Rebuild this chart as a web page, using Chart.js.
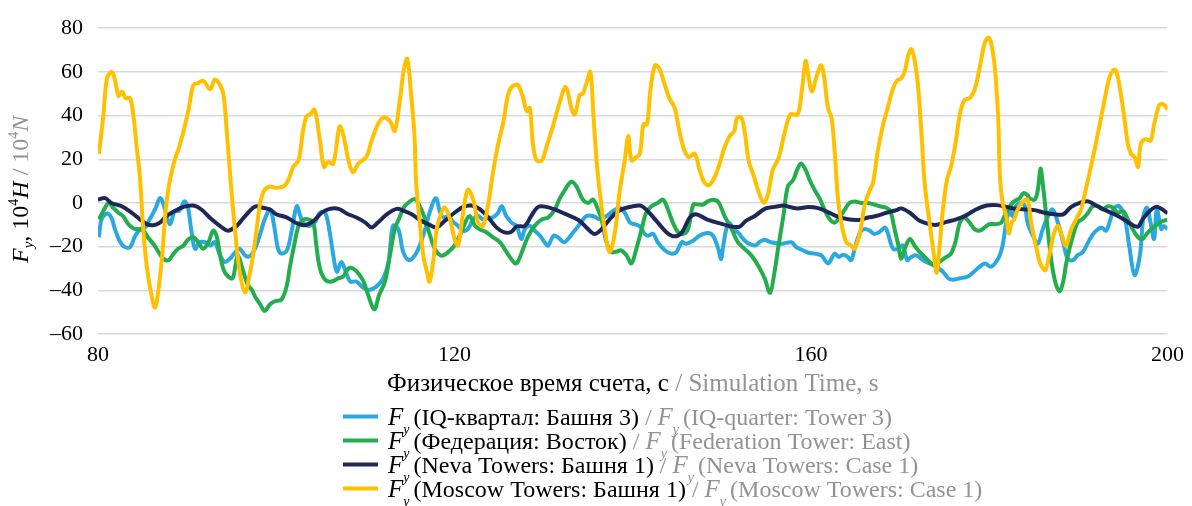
<!DOCTYPE html>
<html>
<head>
<meta charset="utf-8">
<script src="https://cdn.jsdelivr.net/npm/chart.js@4"></script>
<style>
  html, body { margin: 0; padding: 0; background: #fff; }
</style>
</head>
<body>
<canvas id="myChart" width="1192" height="506"></canvas>
<script>
// Series data (time in s, force in 10^4 N)
const iqTimes = [80.1,80.4,81.0,81.5,81.9,82.5,83.0,83.6,84.1,84.7,85.3,85.8,86.4,86.95,87.3,87.7,88.1,88.6,89.1,89.7,90.1,90.5,90.9,91.4,92.0,92.6,93.1,93.7,94.2,94.8,95.4,95.9,96.5,97.0,97.6,98.2,98.7,99.3,99.7,100.2,100.6,101.2,101.7,102.3,102.7,103.0,103.6,104.3,104.9,105.5,106.0,106.4,106.8,107.3,107.8,108.3,109.0,109.8,110.5,111.25,112.0,112.6,113.1,113.7,114.25,114.9,115.55,116.1,116.7,117.2,117.9,118.4,118.8,119.3,119.85,120.4,120.97,121.5,122.1,122.65,123.2,123.8,124.3,124.9,125.3,125.8,126.4,126.95,127.5,127.9,128.45,129.0,129.6,130.1,130.5,131.1,131.6,132.3,133.3,134.05,134.8,135.55,136.3,137.05,137.8,138.5,139.1,139.7,140.2,140.8,141.35,141.7,142.3,142.8,143.6,144.3,144.9,145.5,146.0,146.8,147.5,148.4,149.0,149.6,149.9,150.1,150.5,150.9,151.25,151.8,152.4,152.9,153.7,154.2,154.8,155.5,156.7,157.8,158.35,158.9,159.7,160.4,161.15,161.9,162.3,162.65,163.1,163.6,164.1,164.5,164.9,165.5,166.0,166.6,167.1,167.7,168.3,168.6,169.2,169.75,170.3,170.8,171.25,171.8,172.6,173.3,174.05,174.8,175.4,175.9,176.7,177.6,178.5,179.5,180.2,181.0,181.5,181.9,182.3,182.65,183.0,183.6,184.0,184.3,184.9,185.45,186.0,186.6,187.1,187.7,188.3,188.8,189.4,189.9,190.5,191.1,191.8,192.6,193.1,193.6,194.05,194.6,195.2,195.7,196.3,196.9,197.3,197.7,198.1,198.5,198.8,199.3,199.6,200.0];
const iqValues = [-15.7,-7.5,-4.8,-6.7,-12,-18,-20.2,-20.2,-15.7,-12,-11.2,-7.5,-3,2.2,0,-6,-9.7,-3.7,-3.7,0.7,-2.2,-13.5,-21,-18,-18,-19.5,-18,-24,-27,-25.5,-22.5,-21,-24,-24.5,-21,-14.2,-7.5,-3,-9,-21,-23.2,-21.7,-13.5,-1.5,-6,-9,-10.5,-9,-4.5,-4.5,-13.5,-24,-31.5,-27,-31.5,-36,-36,-39,-39.7,-38.2,-34.5,-27,-10.5,-12,-22.5,-26.2,-24,-19.5,-12,-4.5,2.2,-4.5,-6.7,-6,-8.7,-10.5,-12.7,-12,-7.5,-6,-7.5,-6.7,-6.7,-4.5,-1.5,-6,-9,-10.5,-16.5,-12,-10.5,-12.7,-15,-18,-19.5,-15,-15.7,-18,-13.5,-9.7,-6,-6,-7.5,-6,-3.7,-2.2,-4.5,-9,-9.7,-10.8,-14.2,-15,-14.2,-18,-21.7,-23.2,-22.5,-18,-18.7,-17.2,-15,-13.8,-15,-21,-25.8,-21,-12,-9.3,-12,-13.5,-16.5,-18.3,-19.5,-18,-16.8,-18,-18.7,-18,-20.2,-21.3,-22.8,-23.2,-24,-27.7,-25.5,-23.2,-24.7,-23.7,-24.7,-26.2,-21,-13.5,-12,-12.7,-14.2,-13.2,-11.2,-13.5,-21,-21,-19.5,-26.2,-24.7,-24,-26.2,-27.7,-29.2,-31.5,-34.5,-35.2,-34.5,-33.7,-30.7,-27.7,-29.2,-25.5,-19.5,-9,-3.7,-6,-1.5,0,-1.5,-9,-15,-18.7,-12,-6,-3,-9,-18,-25.5,-26.2,-24,-22.5,-18,-13.5,-11.2,-12.7,-7.5,-2.2,-1.5,-6.7,-19.5,-33,-24,-6,-2.2,-9,-16.5,-3,-12,-10.5,-12];

const fedTimes = [80.1,80.6,81.2,81.7,82.3,82.8,83.4,84.0,84.5,85.1,85.6,86.2,86.8,87.3,87.9,88.4,89.0,89.6,90.1,90.7,91.25,91.8,92.4,92.9,93.3,93.7,94.1,94.6,95.1,95.4,95.7,96.2,96.8,97.3,97.6,98.2,98.7,99.3,99.85,100.6,101.2,101.5,102.0,102.5,103.0,103.6,104.15,104.5,104.9,105.5,106.2,106.95,107.5,108.1,108.6,109.2,109.8,110.3,111.0,111.55,112.2,112.75,113.3,113.9,114.4,115.0,115.55,116.1,116.7,117.2,117.8,118.4,118.9,119.5,120.0,120.6,121.2,121.7,122.3,122.8,123.6,124.3,125.1,125.6,126.2,126.8,127.1,127.7,128.3,129.0,129.8,130.5,131.25,131.8,132.4,133.1,133.7,134.4,135.0,135.55,136.1,136.5,137.05,137.6,138.2,138.7,139.3,139.85,140.4,141.0,141.5,142.1,142.8,143.4,143.95,144.5,145.1,145.7,146.2,146.8,147.3,147.9,148.4,149.0,149.6,150.3,151.1,151.8,152.55,153.3,154.05,154.8,155.4,155.85,156.3,156.9,157.4,158.0,158.5,158.9,159.4,159.85,160.4,160.95,161.5,162.1,162.65,163.2,163.8,164.3,164.9,165.6,166.4,167.1,167.7,168.45,168.9,169.3,169.8,170.1,170.5,171.1,171.6,172.2,172.75,173.3,173.9,174.4,175.2,175.7,176.2,176.7,177.2,177.8,178.35,178.9,179.5,180.0,180.8,181.35,181.7,182.3,182.8,183.4,183.85,184.3,184.5,185.1,185.45,185.75,186.0,186.4,186.8,187.1,187.5,187.9,188.3,188.6,189.0,189.4,189.9,190.5,191.1,191.6,192.2,192.7,193.3,193.9,194.4,195.0,195.55,196.1,196.7,197.2,197.8,198.4,198.9,199.5,200.0];
const fedValues = [-7.5,-3.7,0,-2.2,-4.5,-6,-9.7,-11.7,-12,-12.7,-15.7,-18.7,-22.5,-25.5,-26.2,-23.7,-21,-19.5,-16.8,-15.7,-18,-21,-18,-12.7,-15,-24,-30.7,-33.7,-34.5,-29.2,-24,-30,-37.5,-40,-42.7,-46.4,-49.4,-46.4,-45,-44.2,-37.5,-30,-19.5,-10.5,-7.8,-7.5,-9,-19.5,-30,-35.2,-36,-34.5,-33.7,-30,-30,-32.2,-36,-42,-48.7,-42,-36,-24,-12,-6,-1.5,0.7,1.8,-1.5,-7.5,-14.2,-21,-24,-23.7,-21.7,-19.5,-15,-9,-6,-10.5,-12,-13.5,-15.7,-18,-21,-24.7,-27.7,-27,-21,-15,-10.5,-7.5,-6.7,-3,2,6,9.7,7.5,1.5,0,1.5,-3,-7.5,-18,-22.5,-22.2,-21.7,-24,-27.7,-21,-12,-4.5,-1.5,0,1.5,-3,-9,-13.5,-14.2,-12,-0.7,-0.7,-0.7,0.7,1.5,0.5,-6,-12,-18,-21,-24,-28.5,-34.5,-41.2,-33,-21,-6,7.5,10.5,15.7,18,15,10.5,6,2.2,-3,-7.5,-9,-6.7,-3,0,0.7,0,0,-0.7,-1.5,-2.2,-3.7,-10.5,-19.5,-25.5,-21,-16.5,-19.5,-22.5,-24.7,-27,-28.5,-27,-24.7,-23.2,-18,-9,-6.7,-9,-12,-12.7,-11.2,-9.7,-9.7,-9,-6,-1.5,0.7,2.2,4.5,3.5,2.2,1.5,6,15.7,9,-6,-21,-30,-37.5,-40.5,-36,-28.5,-21,-15,-9,-7.2,-4.5,-1.5,-1.5,-3,-1.5,-2.2,-4.5,-3.7,-7.5,-12,-15.7,-16.5,-13.5,-11.2,-9.7,-8.2,-7.8];

const nevaTimes = [80.0,80.8,81.5,82.65,83.8,84.7,85.5,86.2,86.95,87.7,88.6,89.6,90.7,91.6,92.75,93.9,94.6,95.55,96.5,97.4,97.8,98.5,99.3,100.0,101.2,102.3,103.2,104.2,105.1,106.0,107.0,107.9,109.0,110.0,110.7,111.4,112.4,113.5,114.25,115.2,116.1,117.05,118.0,118.9,120.0,121.0,121.9,122.8,123.8,124.7,125.6,126.4,126.95,127.9,128.6,129.4,130.3,131.25,132.3,133.9,134.8,135.7,136.5,137.4,138.4,139.3,140.8,141.5,142.65,143.8,144.7,145.5,146.4,147.1,148.3,149.2,150.1,151.1,152.0,152.7,153.7,154.8,155.9,157.0,157.6,158.5,159.7,160.8,161.9,163.0,164.15,165.3,166.4,167.3,168.45,169.6,170.1,171.1,172.2,173.3,174.1,175.2,176.3,177.4,178.5,179.7,180.8,181.9,183.0,184.2,185.1,186.2,187.3,188.3,189.2,190.3,191.1,192.0,193.0,194.05,195.2,195.9,196.7,197.2,198.0,198.7,199.3,200.0];
const nevaValues = [1.5,2.2,0,-1.5,-4.5,-7.5,-9.7,-10.2,-9,-6,-3.7,-1.8,-1.2,-3,-7.5,-11.2,-12.7,-10.5,-6,-2.2,-1.5,-2.2,-3,-5.2,-6.7,-9.3,-10.2,-8.2,-4.5,-2.7,-2.7,-4.8,-6.7,-9,-11.2,-9,-5.2,-2.7,-3.5,-5.2,-7.8,-9.7,-11.2,-8.2,-4.5,-1.8,-1.2,-2.7,-6.7,-11.2,-13.5,-13.2,-10.8,-10.5,-6,-1.8,-1.8,-3,-4.8,-7.8,-11.2,-14.2,-12,-7.5,-3.7,-2.2,-1.2,-3,-8.2,-13.5,-15.3,-13.5,-6.7,-5.2,-7.5,-8.7,-9.7,-10.8,-10.8,-8.2,-6,-2.7,-1.8,-1.2,-1.8,-2.5,-1.9,-2.4,-4.2,-6.3,-7.5,-7.8,-6.7,-6,-4.5,-3.3,-2.5,-4.5,-8.2,-9.7,-10,-8.7,-7.5,-5.7,-3,-1.2,-1,-1.8,-2.7,-3,-3.3,-4.5,-5.2,-5.2,-1.8,0.3,0.7,-1.2,-3.3,-5.2,-7.8,-9.7,-10.8,-7.5,-3.7,-1.8,-2.7,-4.8];

const moscowTimes = [80.1,80.6,81.0,81.5,81.8,82.3,82.7,83.1,83.6,84.0,84.3,84.7,85.1,85.5,85.9,86.4,86.8,87.2,87.6,88.0,88.6,89.1,89.7,90.2,90.7,91.3,91.8,92.6,93.1,93.7,94.1,94.5,94.9,95.4,95.9,96.5,97.0,97.4,97.8,98.2,98.7,99.3,99.85,100.8,101.35,101.9,102.5,103.0,103.4,103.8,104.3,104.9,105.35,105.8,106.4,107.1,107.5,108.1,108.6,109.2,110.1,110.7,111.4,112.0,112.75,113.3,113.9,114.3,114.7,115.1,115.5,115.7,116.1,116.5,116.9,117.2,117.6,118.0,118.4,118.9,119.5,120.0,120.4,120.97,121.5,122.1,122.65,123.2,123.8,124.3,124.9,125.5,126.0,126.4,127.1,127.7,128.1,128.45,128.8,129.2,129.8,130.3,131.1,131.8,132.4,132.7,133.1,133.5,134.05,134.4,134.8,135.25,135.6,136.0,136.4,136.85,137.4,138.0,138.5,139.1,139.5,139.85,140.4,140.8,141.2,141.6,142.0,142.5,143.0,143.6,144.1,144.7,145.3,145.8,146.3,146.95,147.5,148.1,148.6,149.2,149.75,150.3,150.9,151.4,151.7,152.2,152.6,153.0,153.6,154.05,154.7,155.2,155.7,156.4,157.0,157.7,158.5,159.0,159.4,159.7,160.1,160.6,161.15,161.5,161.9,162.3,162.65,163.0,163.4,163.96,164.5,164.9,165.5,166.0,166.5,166.95,167.5,168.1,168.6,169.2,169.65,170.1,170.5,170.9,171.25,171.6,172.0,172.4,172.75,173.3,173.8,174.1,174.4,174.8,175.25,175.7,176.2,176.7,177.2,177.8,178.35,178.9,179.5,179.9,180.2,180.6,181.0,181.2,181.5,181.9,182.2,182.5,182.8,183.2,183.8,184.3,184.7,185.3,185.8,186.3,186.8,187.3,187.7,188.15,188.6,189.2,189.75,190.3,190.9,191.4,191.8,192.4,192.9,193.5,193.9,194.2,194.6,195.1,195.55,195.9,196.3,196.7,197.0,197.5,198.1,198.5,199.1,199.6,200.0];
const moscowValues = [22.5,40,57,60,58,49,51,48,48,39,27,12,-13.5,-30,-40,-48,-39,-24,-3,9,19.5,25.5,34.5,43.5,54,55,56,52,56.5,54,49,30,9,-13.5,-31.5,-41,-33,-24,-12,0,6,7.5,7,7.5,10.5,16.5,19.5,33,39.7,40.5,42.7,28.5,16.5,18.7,18,35,31.5,19.5,14,18,21,28.5,36,39,37.5,33,48,60.7,66,51,31.5,9,-9,-24,-31.5,-36,-27,-12,-6,-2,-7.5,-16.5,-19.5,-4.5,6,1.5,-9,-10.5,0,13.5,27,37.5,49.4,53,54,48,42,43.5,27,19.5,19.5,25.5,36,46,53,51,43.5,40.5,49.4,50,54.7,60,39,16.5,1.5,-12,-22.5,-13.5,4.5,19.5,30.7,19.5,21,22.5,36,36,52.4,63,61.4,54,48,43.5,31.5,24,21,22.5,15,9,8.2,12,18,25.5,30.7,33,39,39,31.5,19.5,12,6,0,4.5,15,21,31.5,40.5,40.5,52.4,65,58.4,51,57.7,63,57,43.5,39,24,3,-9,-18,-19.5,-21,-13.5,-1.5,5,9,24,36,43.5,52.4,56,57,60,67.4,70.4,66,54,31.5,9,-9,-24,-32,-21,-3,10.5,16.5,27,40.5,47,48,51.7,61.4,73.4,75.7,73.4,63,39,12,0,-6,-14,-9,-7.5,-3,0.7,1.5,-9,-21,-28.5,-30.7,-22.5,-13.5,-10.5,-15,-19.5,-12,-7.5,-3,7.5,16.5,24,36,46.4,57.7,60.7,60.7,54,40.5,27,22.5,21,16.5,27,29.2,28.5,36,45,45,42.7];

const yTicks = [-60, -40, -20, 0, 20, 40, 60, 80];
const xTicks = [80, 120, 160, 200];

const namesRu = ["(IQ-квартал: Башня 3)", "(Федерация: Восток)", "(Neva Towers: Башня 1)", "(Moscow Towers: Башня 1)"];
const namesEn = ["(IQ-quarter: Tower 3)", "(Federation Tower: East)", "(Neva Towers: Case 1)", "(Moscow Towers: Case 1)"];
const colors = ["#2aa8e0", "#23ad4c", "#1d2859", "#ffc000"];

const SERIF = "'Liberation Serif', 'Times New Roman', serif";
const GRAY = "#939393";

const toPoints = (times, values) => times.map((t, i) => ({ x: t, y: values[i] }));

// draw a row of text pieces with their own style, returns end x
function drawRuns(ctx, x, y, runs, measureOnly) {
  runs.forEach((r) => {
    ctx.font = (r.italic ? "italic " : "") + r.size + "px " + SERIF;
    ctx.fillStyle = r.color;
    if (!measureOnly) ctx.fillText(r.text, x, y + (r.dy || 0));
    x += ctx.measureText(r.text).width + (r.gap || 0);
  });
  return x;
}

const textPlugin = {
  id: "texts",
  afterDraw(chart) {
    const ctx = chart.ctx;
    const area = chart.chartArea;
    ctx.save();
    ctx.textBaseline = "alphabetic";
    ctx.textAlign = "left";

    // y axis title, rotated (reads bottom to top)
    const yRuns = [
      { text: "F", italic: true, size: 24, color: "#000" },
      { text: "y", italic: true, size: 15, color: "#000", dy: 5 },
      { text: ", 10", size: 24, color: "#000" },
      { text: "4", size: 14, color: "#000", dy: -10 },
      { text: "H", italic: true, size: 24, color: "#000" },
      { text: " / 10", size: 24, color: GRAY },
      { text: "4", size: 14, color: GRAY, dy: -10 },
      { text: "N", italic: true, size: 24, color: GRAY },
    ];
    ctx.save();
    ctx.translate(28, 263);
    ctx.rotate(-Math.PI / 2);
    drawRuns(ctx, 0, 0, yRuns);
    ctx.restore();

    // x axis title
    const xRuns = [
      { text: "Физическое время счета, с", size: 25, color: "#000" },
      { text: " / Simulation Time, s", size: 25, color: GRAY },
    ];
    const xEnd = drawRuns(ctx, 0, 0, xRuns, true);
    drawRuns(ctx, (area.left + area.right) / 2 - xEnd / 2, 391, xRuns);

    // legend
    const rowY = [416.5, 440.5, 464.5, 488.5];
    namesRu.forEach((name, i) => {
      const y = rowY[i];
      ctx.strokeStyle = colors[i];
      ctx.lineWidth = 4;
      ctx.beginPath();
      ctx.moveTo(343, y);
      ctx.lineTo(378, y);
      ctx.stroke();
      drawRuns(ctx, 388, y + 8, [
        { text: "F", italic: true, size: 25, color: "#000" },
        { text: "y", italic: true, size: 14, color: "#000", dy: 9, gap: 4 },
        { text: name, size: 24, color: "#000" },
        { text: " / ", size: 24, color: GRAY },
        { text: "F", italic: true, size: 25, color: GRAY },
        { text: "y", italic: true, size: 14, color: GRAY, dy: 9, gap: 4 },
        { text: namesEn[i], size: 24, color: GRAY },
      ]);
    });
    ctx.restore();
  },
};

const seriesTimes = [iqTimes, fedTimes, nevaTimes, moscowTimes];
const seriesValues = [iqValues, fedValues, nevaValues, moscowValues];
const drawOrder = [3, 2, 1, 0];

const ctx = document.getElementById("myChart").getContext("2d");
const myChart = new Chart(ctx, {
  type: "line",
  data: {
    datasets: namesRu.map((name, i) => ({
      label: "Fy " + name + " / Fy " + namesEn[i],
      data: toPoints(seriesTimes[i], seriesValues[i]),
      borderColor: colors[i],
      backgroundColor: colors[i],
      borderWidth: 4,
      pointRadius: 0,
      tension: 0.35,
      fill: false,
      order: drawOrder[i],
    })),
  },
  options: {
    responsive: false,
    animation: false,
    layout: { padding: { left: 0, right: 24, top: 23, bottom: 132 } },
    plugins: {
      legend: { display: false },
      title: { display: false },
      tooltip: { enabled: false },
    },
    scales: {
      x: {
        type: "linear",
        min: 80,
        max: 200,
        afterBuildTicks: (scale) => { scale.ticks = xTicks.map((v) => ({ value: v })); },
        afterFit: (scale) => { scale.height = 40; },
        grid: { display: false, drawTicks: false },
        border: { display: false },
        ticks: {
          padding: 8,
          color: "#000",
          font: { family: SERIF, size: 22 },
        },
      },
      y: {
        min: -60,
        max: 80,
        afterBuildTicks: (scale) => { scale.ticks = yTicks.map((v) => ({ value: v })); },
        afterFit: (scale) => { scale.width = 98; },
        grid: { color: "#d9d9d9", lineWidth: 1.5, drawTicks: false },
        border: { display: false },
        ticks: {
          padding: 15,
          color: "#000",
          font: { family: SERIF, size: 22 },
          callback: (v) => (v < 0 ? "\u2013" + Math.abs(v) : String(v)),
        },
      },
    },
  },
  plugins: [textPlugin],
});
</script>
</body>
</html>
